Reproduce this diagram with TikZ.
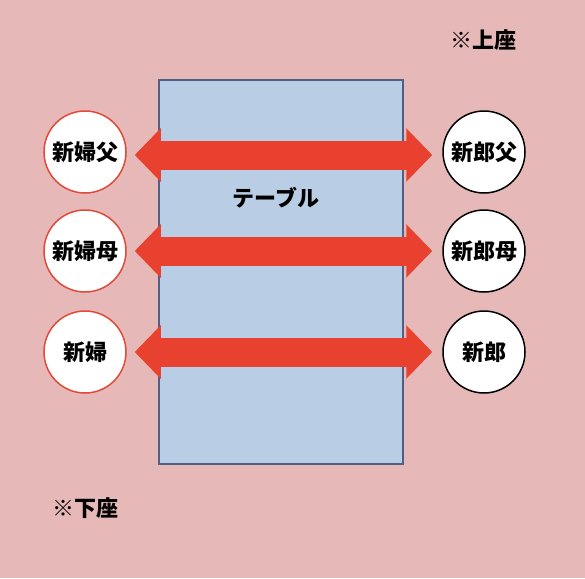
\documentclass[tikz,border=0pt]{standalone}
\usepackage{fontspec}
\setmainfont{Noto Sans CJK JP}
\usetikzlibrary{arrows.meta}
\definecolor{bgpink}{HTML}{E6B8B7}
\definecolor{tablefill}{HTML}{B9CDE4}
\definecolor{tableline}{HTML}{4F5F85}
\definecolor{arrowred}{HTML}{E8412F}
\definecolor{brideline}{HTML}{E04A3A}
\begin{document}
\begin{tikzpicture}[x=1pt,y=-1pt,
  seat/.style={circle,fill=white,line width=1.5pt,minimum size=82pt,inner sep=0pt,font=\fontsize{22}{22}\selectfont\bfseries},
  bride/.style={seat,draw=brideline},
  groom/.style={seat,draw=black},
  bigarrow/.style={draw=arrowred,line width=29pt,{Triangle[width=52pt,length=26pt]}-{Triangle[width=52pt,length=26pt]}},
  label/.style={font=\fontsize{22}{22}\selectfont\bfseries,inner sep=0pt}]
\fill[bgpink] (0,0) rectangle (585,578);
\useasboundingbox (0,0) rectangle (585,578);
\node[draw=tableline,fill=tablefill,line width=1.2pt,minimum width=244pt,minimum height=384pt,inner sep=0pt] (table) at (281,272) {};
\node[label] (tlabel) at (276,198) {テーブル};
\node[bride] (bf) at (85,152) {新婦父};
\node[bride] (bm) at (85,251) {新婦母};
\node[bride] (b) at (85,352) {新婦};
\node[groom] (gf) at (484,152) {新郎父};
\node[groom] (gm) at (484,251) {新郎母};
\node[groom] (g) at (484,352) {新郎};
\draw[bigarrow] ([xshift=8pt,yshift=-3pt]bf.east) -- ([xshift=-10pt,yshift=-3pt]gf.west);
\draw[bigarrow] ([xshift=8pt]bm.east) -- ([xshift=-10pt]gm.west);
\draw[bigarrow] ([xshift=8pt]b.east) -- ([xshift=-10pt]g.west);
\node[label] (upper) at (483,40) {※上座};
\node[label] (lower) at (85,508) {※下座};
\end{tikzpicture}
\end{document}
